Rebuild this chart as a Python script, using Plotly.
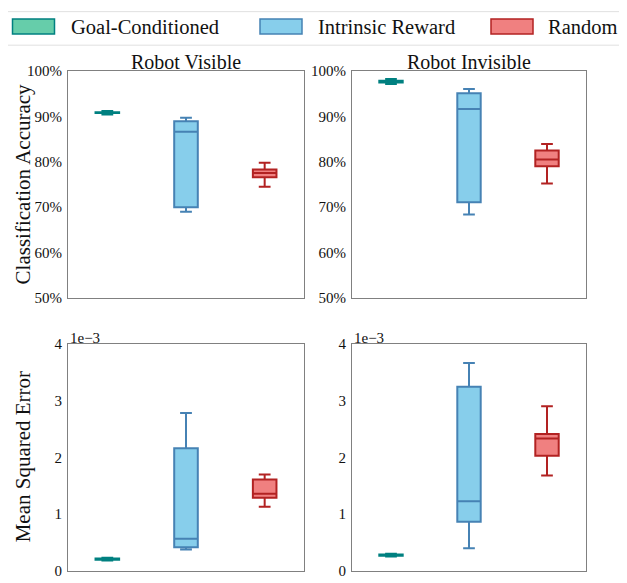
import plotly.graph_objects as go

# ---------------- data ----------------
categories = ["Goal-Conditioned", "Intrinsic Reward", "Random"]
positions = [1, 2, 3]

# Classification accuracy (%), Robot Visible
acc_vis_low = [90.4, 69.0, 74.5]
acc_vis_q1 = [90.75, 70.0, 76.6]
acc_vis_med = [90.8, 86.6, 77.5]
acc_vis_q3 = [90.9, 88.9, 78.3]
acc_vis_high = [91.2, 89.7, 79.8]

# Classification accuracy (%), Robot Invisible
acc_inv_low = [97.1, 68.4, 75.2]
acc_inv_q1 = [97.45, 71.1, 79.0]
acc_inv_med = [97.65, 91.6, 80.5]
acc_inv_q3 = [97.85, 95.1, 82.5]
acc_inv_high = [98.2, 96.0, 83.9]

# Mean squared error (units of 1e-3), Robot Visible
mse_vis_low = [0.185, 0.38, 1.13]
mse_vis_q1 = [0.20, 0.42, 1.29]
mse_vis_med = [0.21, 0.57, 1.36]
mse_vis_q3 = [0.22, 2.16, 1.61]
mse_vis_high = [0.235, 2.78, 1.70]

# Mean squared error (units of 1e-3), Robot Invisible
mse_inv_low = [0.255, 0.40, 1.68]
mse_inv_q1 = [0.27, 0.87, 2.03]
mse_inv_med = [0.28, 1.23, 2.33]
mse_inv_q3 = [0.29, 3.24, 2.41]
mse_inv_high = [0.305, 3.66, 2.90]

MSE_SCALE = 1e-3
acc_ticks = [50, 60, 70, 80, 90, 100]
acc_ticklabels = ["50%", "60%", "70%", "80%", "90%", "100%"]
mse_ticks = [0, 1, 2, 3, 4]
mse_ticklabels = ["0", "1", "2", "3", "4"]
panel_titles = ["Robot Visible", "Robot Invisible"]
row_titles = ["Classification Accuracy", "Mean Squared Error"]

# ---------------- style ----------------
OFF = 8                      # page body margin
W, H = 627 - OFF, 583 - OFF  # figure size
FONT = "Liberation Serif"
TXT = "#111111"
fills = ["#66CDAA", "#87CEEB", "#F08080"]
edges = ["#008080", "#4682B4", "#B22222"]
FRAME = "#808080"


def px_x(p):
    """page pixel x -> paper coordinate"""
    return (p - OFF) / W


def px_y(p):
    """page pixel y -> paper coordinate"""
    return (H + OFF - p) / H


fig = go.Figure()

panels = [
    (1, acc_vis_low, acc_vis_q1, acc_vis_med, acc_vis_q3, acc_vis_high, 1.0),
    (2, acc_inv_low, acc_inv_q1, acc_inv_med, acc_inv_q3, acc_inv_high, 1.0),
    (3, mse_vis_low, mse_vis_q1, mse_vis_med, mse_vis_q3, mse_vis_high, MSE_SCALE),
    (4, mse_inv_low, mse_inv_q1, mse_inv_med, mse_inv_q3, mse_inv_high, MSE_SCALE),
]

for idx, lo, q1, md, q3, hi, sc in panels:
    for i, cat in enumerate(categories):
        fig.add_trace(go.Box(
            x=[positions[i]],
            lowerfence=[lo[i] * sc], q1=[q1[i] * sc], median=[md[i] * sc],
            q3=[q3[i] * sc], upperfence=[hi[i] * sc],
            width=0.3, whiskerwidth=0.5,
            fillcolor=fills[i], line=dict(color=edges[i], width=2),
            name=cat, showlegend=False, boxpoints=False,
            xaxis="x" if idx == 1 else f"x{idx}",
            yaxis="y" if idx == 1 else f"y{idx}",
        ))

xdom_l = [px_x(68), px_x(304)]
xdom_r = [px_x(352), px_x(586)]
ydom_t = [px_y(298), px_y(64.5)]
ydom_b = [px_y(579), px_y(345)]

xcommon = dict(range=[0.5, 3.5], showticklabels=False, showgrid=False, zeroline=False,
               showline=True, mirror=True, linecolor=FRAME, linewidth=1, ticks="")
ycommon = dict(showgrid=False, zeroline=False, showline=True, mirror=True,
               linecolor=FRAME, linewidth=1, ticks="outside", ticklen=2, tickcolor="white",
               ticklabeloverflow="allow",
               tickfont=dict(family=FONT, size=15, color=TXT))

acc_y = dict(ycommon, range=[50, 100], tickmode="array", tickvals=acc_ticks,
             ticktext=acc_ticklabels)
mse_y = dict(ycommon, range=[0, 4 * MSE_SCALE], tickmode="array",
             tickvals=[t * MSE_SCALE for t in mse_ticks], ticktext=mse_ticklabels)

fig.update_layout(
    width=W, height=H,
    margin=dict(l=0, r=0, t=0, b=0),
    plot_bgcolor="white", paper_bgcolor="white",
    boxmode="overlay",
    font=dict(family=FONT, color=TXT),
    xaxis=dict(xcommon, domain=xdom_l, anchor="y"),
    yaxis=dict(acc_y, domain=ydom_t, anchor="x"),
    xaxis2=dict(xcommon, domain=xdom_r, anchor="y2"),
    yaxis2=dict(acc_y, domain=ydom_t, anchor="x2"),
    xaxis3=dict(xcommon, domain=xdom_l, anchor="y3"),
    yaxis3=dict(mse_y, domain=ydom_b, anchor="x3"),
    xaxis4=dict(xcommon, domain=xdom_r, anchor="y4"),
    yaxis4=dict(mse_y, domain=ydom_b, anchor="x4"),
)

annotations = []
# subplot titles
for t, dom in zip(panel_titles, [xdom_l, xdom_r]):
    annotations.append(dict(text=t, x=(dom[0] + dom[1]) / 2, y=px_y(55.5), xref="paper",
                            yref="paper", xanchor="center", yanchor="middle", showarrow=False,
                            font=dict(family=FONT, size=20, color=TXT)))
# row (y axis) titles
for t, yd in zip(row_titles, [ydom_t, ydom_b]):
    annotations.append(dict(text=t, x=px_x(23), y=(yd[0] + yd[1]) / 2, xref="paper",
                            yref="paper", xanchor="center", yanchor="middle", showarrow=False,
                            textangle=-90, font=dict(family=FONT, size=21, color=TXT)))
# offset text for MSE axes
for dom in [xdom_l, xdom_r]:
    annotations.append(dict(text="1e\u22123", x=dom[0], y=ydom_b[1], xref="paper", yref="paper",
                            xanchor="left", yanchor="bottom", showarrow=False,
                            font=dict(family=FONT, size=15, color=TXT), yshift=-4))

# legend (frame, swatches, labels)
shapes = [dict(type="rect", xref="paper", yref="paper",
               x0=px_x(3.5), x1=px_x(660), y0=px_y(38), y1=px_y(3.5),
               line=dict(color="#e0e0e0", width=1), fillcolor="white", layer="below")]
sw_x = [12.5, 260, 491]
tx_x = [68.5, 316, 545.5]
for i, cat in enumerate(categories):
    shapes.append(dict(type="rect", xref="paper", yref="paper",
                       x0=px_x(sw_x[i]), x1=px_x(sw_x[i] + 42), y0=px_y(26.5), y1=px_y(11),
                       line=dict(color=edges[i], width=1.5), fillcolor=fills[i]))
    annotations.append(dict(text=cat, x=px_x(tx_x[i]), y=px_y(19.5), xref="paper", yref="paper",
                            xanchor="left", yanchor="middle", showarrow=False,
                            font=dict(family=FONT, size=20.5, color=TXT)))

fig.update_layout(annotations=annotations, shapes=shapes)
fig.write_html("out.html")
